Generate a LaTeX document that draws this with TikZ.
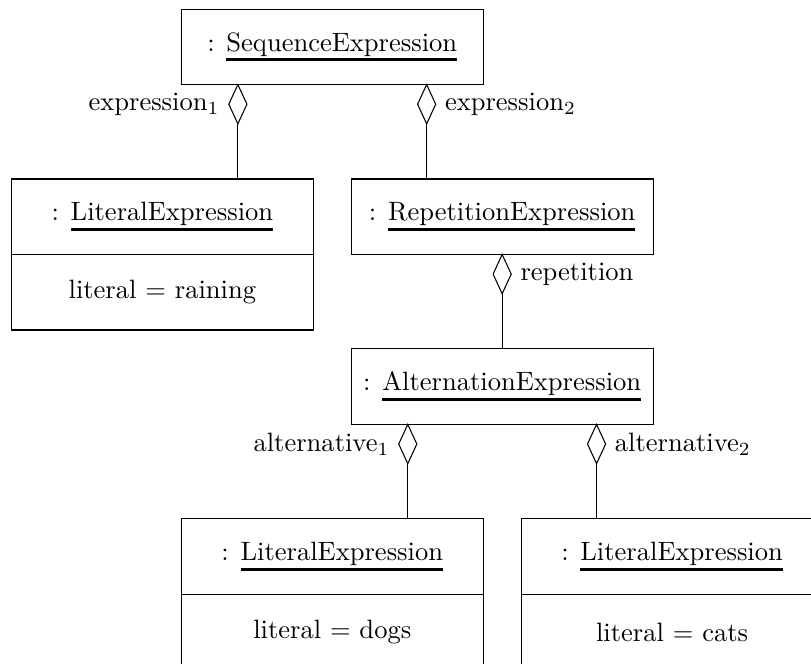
\documentclass[tikz,border=0pt]{standalone}
\usetikzlibrary{positioning,shapes.geometric}
% object name with a heavy underline
\newcommand{\objname}[1]{\setbox0=\hbox{#1}\rlap{\rule[-3.9pt]{\wd0}{1.2pt}}\box0}

\begin{document}
\begin{tikzpicture}[
  cls/.style={draw, minimum width=4cm, minimum height=1cm, inner sep=0pt, outer sep=0pt},
  attr/.style={cls},
  agg/.style={draw, diamond, minimum width=2.4mm, minimum height=5.2mm, inner sep=0pt, outer sep=0pt},
  role/.style={inner sep=3.3pt}
]
\useasboundingbox (0,0) rectangle (10.74,-8.79);

% object boxes
\node[cls] (seq)  at (4.40,-0.62) {: \objname{SequenceExpression}};
\node[cls] (lit1) at (2.15,-2.87) {: \objname{LiteralExpression}};
\node[attr, below=0pt of lit1] (lit1a) {literal $=$ raining};
\node[cls] (rep)  at (6.65,-2.87) {: \objname{RepetitionExpression}};
\node[cls] (alt)  at (6.65,-5.12) {: \objname{AlternationExpression}};
\node[cls] (lit2) at (4.40,-7.37) {: \objname{LiteralExpression}};
\node[attr, below=0pt of lit2] (lit2a) {literal $=$ dogs};
\node[cls] (lit3) at (8.90,-7.37) {: \objname{LiteralExpression}};
\node[attr, below=0pt of lit3] (lit3a) {literal $=$ cats};

% aggregation diamonds on the owner side
\node[agg, below=0pt of seq.south, xshift=-1.25cm] (d1) {};
\node[agg, below=0pt of seq.south, xshift=1.25cm]  (d2) {};
\node[agg, below=0pt of rep.south]                 (d3) {};
\node[agg, below=0pt of alt.south, xshift=-1.25cm] (d4) {};
\node[agg, below=0pt of alt.south, xshift=1.25cm]  (d5) {};

\draw (d1.south) -- (d1.south |- lit1.north);
\draw (d2.south) -- (d2.south |- rep.north);
\draw (d3.south) -- (d3.south |- alt.north);
\draw (d4.south) -- (d4.south |- lit2.north);
\draw (d5.south) -- (d5.south |- lit3.north);

% role names
\node[role, left=0pt of d1]  (r1) {expression$_1$};
\node[role, right=0pt of d2] (r2) {expression$_2$};
\node[role, right=0pt of d3] (r3) {repetition};
\node[role, left=0pt of d4]  (r4) {alternative$_1$};
\node[role, right=0pt of d5] (r5) {alternative$_2$};
\end{tikzpicture}
\end{document}
